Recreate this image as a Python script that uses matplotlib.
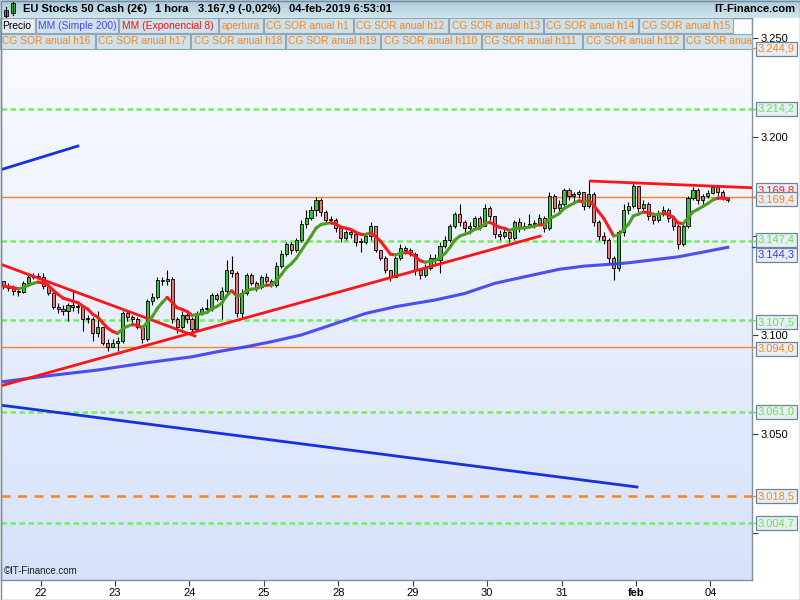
import numpy as np
import matplotlib
matplotlib.use("Agg")
import matplotlib.pyplot as plt
from matplotlib.patches import Rectangle
from matplotlib.collections import LineCollection
from matplotlib.colors import LinearSegmentedColormap

plt.rcParams['font.family'] = ['Liberation Sans', 'DejaVu Sans']

# hourly candles, index 0 = first candle on screen (21 jan evening)
first_open = 3127.0
closes = [3124.5, 3123.5, 3122, 3121.5, 3126, 3129, 3129.5, 3129, 3124.5, 3121,
          3114, 3113, 3112, 3115, 3114, 3114, 3108, 3108, 3101, 3104,
          3096, 3094, 3096, 3097, 3111, 3109, 3108, 3104, 3098, 3117,
          3119, 3127.5, 3127, 3128, 3108, 3104, 3110, 3108, 3103, 3111,
          3113, 3113, 3120, 3118, 3122, 3133, 3131, 3111, 3121, 3130,
          3126, 3124, 3129, 3127, 3125, 3135, 3141, 3146, 3143, 3148,
          3156, 3159, 3163, 3168, 3162, 3158, 3158, 3154, 3149, 3152,
          3151, 3147, 3147, 3150, 3155, 3143, 3139, 3133, 3129, 3139,
          3144, 3143, 3141, 3133, 3130, 3134, 3139, 3138, 3145, 3148,
          3155, 3161, 3157, 3154, 3155, 3159, 3155, 3164, 3160, 3151,
          3150, 3152, 3149, 3157, 3154, 3155, 3156, 3156, 3159, 3154,
          3170, 3164, 3166, 3173, 3170, 3171, 3172, 3165, 3171, 3157,
          3150, 3148, 3139, 3134, 3152, 3163, 3165, 3175, 3164, 3166,
          3160, 3158, 3161, 3163, 3159, 3155, 3146, 3155, 3169, 3173,
          3168, 3170, 3171.5, 3174.5, 3172, 3169, 3167.9]
highs = [3127, 3126, 3125, 3124, 3127, 3130, 3131, 3131, 3131, 3126,
         3122, 3116, 3115, 3116, 3122, 3116, 3115, 3110, 3109, 3112,
         3104, 3098, 3098, 3099, 3112, 3112, 3110, 3109, 3105, 3118,
         3121, 3129, 3129, 3133, 3129, 3109, 3112, 3111, 3109, 3112,
         3114, 3118, 3121, 3121, 3124, 3138, 3140, 3132, 3123, 3131,
         3131, 3127, 3130, 3131, 3128, 3137, 3143, 3147, 3147, 3149,
         3158, 3163, 3165, 3169.5, 3169, 3163, 3160, 3159, 3155, 3153,
         3154, 3152, 3149, 3152, 3157, 3155, 3143, 3140, 3133, 3140,
         3146, 3145, 3144, 3142, 3134, 3136, 3141, 3141, 3147, 3150,
         3156, 3162, 3166, 3158, 3157, 3160, 3160, 3166, 3165, 3158,
         3153, 3154, 3153, 3158, 3159, 3157, 3161, 3158, 3161, 3160,
         3172, 3171, 3168, 3174, 3174, 3172, 3173, 3172, 3178, 3172,
         3158, 3152, 3149, 3140, 3153, 3166, 3167, 3176.5, 3175, 3168,
         3167, 3162, 3163, 3165, 3164, 3160, 3156, 3157, 3170, 3174.5,
         3174, 3171, 3173, 3175.5, 3175, 3173, 3169.5]
lows = [3123, 3122, 3120, 3119.5, 3121, 3126, 3128, 3128, 3123, 3120,
        3113, 3111, 3110, 3107, 3112, 3111, 3102, 3106, 3097, 3099,
        3095, 3092, 3094, 3092, 3096, 3107, 3106, 3103, 3096, 3097,
        3115, 3118, 3125, 3125, 3106, 3101, 3103, 3106, 3101, 3102,
        3110, 3111, 3112, 3117, 3108, 3121, 3129, 3109, 3108, 3120,
        3125, 3122, 3123, 3126, 3124, 3124, 3134, 3140, 3141, 3142,
        3147, 3154, 3158, 3160, 3160, 3156, 3156, 3152, 3147, 3148,
        3149, 3145, 3142, 3146, 3148, 3142, 3138, 3131, 3127, 3129,
        3138, 3141, 3140, 3130, 3128, 3129, 3133, 3136, 3131, 3144,
        3147, 3154, 3155, 3152, 3151, 3154, 3153, 3155, 3158, 3149,
        3148, 3149, 3147, 3148, 3152, 3153, 3154, 3154, 3155, 3152,
        3153, 3162, 3162, 3165, 3168, 3167, 3169, 3163, 3164, 3155,
        3148, 3146, 3136, 3127.5, 3132, 3150, 3161, 3164, 3162, 3163,
        3158, 3156, 3157, 3160, 3157, 3153, 3143.5, 3145, 3154, 3168,
        3166, 3166, 3169, 3171, 3170, 3168, 3167]

# simple moving average 200 at a few candles
sma_idx = [-1, 9, 19, 28, 38, 43, 49, 54, 60, 68, 73, 79, 87, 93, 99,
           105, 112, 117, 122, 126, 136, 146]
sma_val = [3076.0, 3079.3, 3082.2, 3085.6, 3088.9, 3091.4, 3094.0, 3096.5,
           3099.9, 3106.6, 3110.8, 3114.2, 3117.6, 3120.9, 3126.0, 3129.3,
           3133.1, 3134.7, 3135.6, 3136.4, 3139.4, 3144.2]

# horizontal levels
green_levels = [3214.2, 3147.4, 3107.5, 3061.0, 3004.7]
orange_dashed_levels = [3018.5]
orange_levels = [3244.9, 3169.4, 3094.0]
sma_last = 3144.3
ema_last = 3169.8

# hand drawn trend lines (index, price) pairs
red_trends = [((-0.7, 3135.8), (38.6, 3099.4)),
              ((-0.7, 3074.1), (108.2, 3149.9)),
              ((118.3, 3177.7), (152.0, 3174.2))]
blue_trends = [((-0.7, 3183.3), (15.0, 3195.4)),
               ((-0.7, 3064.5), (127.7, 3023.1))]

day_ticks = [7.5, 22.5, 37.5, 52.5, 67.5, 82.5, 97.5, 112.5, 127.5, 142.5]
day_labels = ['22', '23', '24', '25', '28', '29', '30', '31', 'feb', '04']
y_ticks = [3000, 3050, 3100, 3150, 3200, 3250]
y_hidden = [3000, 3150]   # covered by the level boxes on the original

W, H = 800, 600
fig = plt.figure(figsize=(8, 6), dpi=100)
fig.patch.set_facecolor('white')

ax = fig.add_axes([1 / W, 20 / H, 751 / W, 562 / H])
x_lo, x_hi = -0.5, 150.9
y_lo, y_hi = 2976.1, 3260.1

# background gradient of the price panel
grad = np.linspace(0, 1, 256)[:, None]
bg_cmap = LinearSegmentedColormap.from_list('bg', ['#d6e2fa', '#fbfcff'])
ax.imshow(grad, extent=[x_lo, x_hi, y_lo, y_hi], origin='lower',
          aspect='auto', cmap=bg_cmap, zorder=0)

for v in green_levels:
    ax.axhline(v, color='#6ef05a', lw=1.8, ls=(0, (2.2, 1.4)), zorder=1)
for v in orange_dashed_levels:
    ax.axhline(v, color='#f7861e', lw=1.8, ls=(0, (3.6, 3.0)), zorder=1)
for v in orange_levels:
    ax.axhline(v, color='#f7861e', lw=1.0, zorder=1)

# candles
n = len(closes)
x = np.arange(n)
opens = [first_open] + closes[:-1]
hi = np.maximum.reduce([np.array(highs), np.array(opens), np.array(closes)])
lo = np.minimum.reduce([np.array(lows), np.array(opens), np.array(closes)])
ax.vlines(x, lo, hi, color='black', lw=0.8, zorder=3)
body_bot = np.minimum(opens, closes)
body_h = np.maximum(np.abs(np.array(closes) - np.array(opens)), 0.5)
body_col = ['#3fbf3f' if c >= o else '#e87474' for o, c in zip(opens, closes)]
ax.bar(x, body_h, bottom=body_bot, width=0.62, color=body_col,
       edgecolor='black', linewidth=0.6, zorder=4)

# SMA 200
ax.plot(sma_idx, sma_val, color='#3b3bf2', lw=2.2, alpha=0.9, zorder=5)

# trend lines
for (x0, y0), (x1, y1) in red_trends:
    ax.plot([x0, x1], [y0, y1], color='#ff1414', lw=2, zorder=6)
for (x0, y0), (x1, y1) in blue_trends:
    ax.plot([x0, x1], [y0, y1], color='#1530e0', lw=2, zorder=6)

# EMA 8, green when rising, red when falling
alpha = 2 / 9
ema = [closes[0]]
for c in closes[1:]:
    ema.append(ema[-1] + alpha * (c - ema[-1]))
segs = [[(i, ema[i]), (i + 1, ema[i + 1])] for i in range(n - 1)]
seg_col = ['#4aa01e' if ema[i + 1] >= ema[i] else '#ff1a1a' for i in range(n - 1)]
ax.add_collection(LineCollection(segs, colors=seg_col, linewidths=2.2,
                                 capstyle='round', zorder=7))

ax.set_xlim(x_lo, x_hi)
ax.set_ylim(y_lo, y_hi)

# axes / ticks
ax.yaxis.tick_right()
ax.set_yticks(y_ticks)
ax.set_yticklabels(['' if v in y_hidden else f"{v:,.0f}".replace(',', '.')
                    for v in y_ticks])
ax.tick_params(axis='y', direction='out', length=4, width=0.8, color='#404040',
               labelsize=8, pad=2)
ax.set_xticks(day_ticks)
ax.set_xticklabels(day_labels)
ax.tick_params(axis='x', direction='out', length=4, width=0.8, color='#404040',
               labelsize=8, pad=2)
ax.get_xticklabels()[8].set_fontweight('bold')
for s in ax.spines.values():
    s.set_color('#7f8fa0')
    s.set_linewidth(1)


def fmt(v):
    return f"{v:,.1f}".replace(',', ' ').replace('.', ',').replace(' ', '.')


# value labels on the right axis
ytr = ax.get_yaxis_transform()
labels = [(3244.9, '#f7861e', -0.5), (3214.2, '#5ee84a', 0),
          (ema_last, '#ff1a1a', 4.8), (3169.4, '#f7861e', -1.2),
          (3147.4, '#5ee84a', 0.8), (sma_last, '#3b3bf2', -5.5),
          (3107.5, '#5ee84a', -1.5), (3094.0, '#f7861e', -1.5),
          (3061.0, '#5ee84a', 0), (3018.5, '#f7861e', 0), (3004.7, '#5ee84a', 0)]
for v, c, dy in labels:
    ax.plot([1.0, 1.0055], [v, v], transform=ytr, color=c, lw=1, clip_on=False, zorder=8)
    ax.annotate(fmt(v), xy=(1.0, v), xycoords=ytr, xytext=(4.2, dy),
                textcoords='offset points', ha='left', va='center', fontsize=8,
                color=c, annotation_clip=False, zorder=9,
                bbox=dict(boxstyle='square,pad=0.18', fc='#e8eef6', ec='#6f8494', lw=0.9))

ax.text(0.004, 0.008, '©IT-Finance.com', transform=ax.transAxes, fontsize=7,
        ha='left', va='bottom', color='#202020', zorder=9)

# overlay in pixel coordinates for header and legend strip
ov = fig.add_axes([0, 0, 1, 1])
ov.patch.set_alpha(0)
hdr_cmap = LinearSegmentedColormap.from_list('hdr', ['#d2e6ee', '#a9cad9'])
ov.imshow(grad[::-1], extent=(0, W, 18, 0), aspect='auto', cmap=hdr_cmap, zorder=0)
ov.set_xlim(0, W)
ov.set_ylim(H, 0)
ov.axis('off')

# candle icon
ov.plot([6, 6], [7, 18], color='black', lw=0.8)
ov.add_patch(Rectangle((4, 9.5), 4, 6.5, fc='#e05050', ec='black', lw=0.6))
ov.plot([13, 13], [1, 15], color='black', lw=0.8)
ov.add_patch(Rectangle((11, 3), 4, 10, fc='#40c040', ec='black', lw=0.6))

hdr = [(23, 'EU Stocks 50 Cash (2€)'), (155, '1 hora'),
       (198, '3.167,9 (-0,02%)'), (289, '04-feb-2019 6:53:01')]
for hx, t in hdr:
    ov.text(hx, 9.5, t, fontsize=8, fontweight='bold', va='center', ha='left')
ov.text(795, 9.5, 'IT-Finance.com', fontsize=8, fontweight='bold', va='center', ha='right')

orange = '#f7861e'
row1 = [('Precio', 'black', 0, 35), ('MM (Simple 200)', '#4646ff', 36, 118),
        ('MM (Exponencial 8)', '#ff1010', 119, 218), ('apertura', orange, 219, 263),
        ('CG SOR anual h1', orange, 264, 353), ('CG SOR anual h12', orange, 354, 448),
        ('CG SOR anual h13', orange, 449, 543), ('CG SOR anual h14', orange, 544, 638),
        ('CG SOR anual h15', orange, 639, 733)]
# the last box is cut by the price scale on the original
row2 = [('CG SOR anual h16', orange, 0, 95), ('CG SOR anual h17', orange, 96, 190),
        ('CG SOR anual h18', orange, 191, 285), ('CG SOR anual h19', orange, 286, 380),
        ('CG SOR anual h110', orange, 381, 481), ('CG SOR anual h111', orange, 482, 582),
        ('CG SOR anual h112', orange, 583, 683), ('CG SOR anua', orange, 684, 752)]
for y0, row in ((18, row1), (33.5, row2)):
    for t, c, x0, x1 in row:
        fc = '#e4ecf2' if t == 'Precio' else '#cfe1ea'
        r = Rectangle((x0, y0), x1 - x0, 15, fc=fc, ec='#8ea6b6', lw=0.8, zorder=2)
        ov.add_patch(r)
        tx = ov.text(x0 + 2.5, y0 + 8, t, fontsize=7.4, color=c, va='center',
                     ha='left', zorder=3)
        tx.set_clip_path(r)

ov.add_patch(Rectangle((0.5, 0.5), W - 1, H - 1, fill=False, ec='#7a8a9a', lw=1, zorder=5))

fig.savefig('out.png', dpi=100)
